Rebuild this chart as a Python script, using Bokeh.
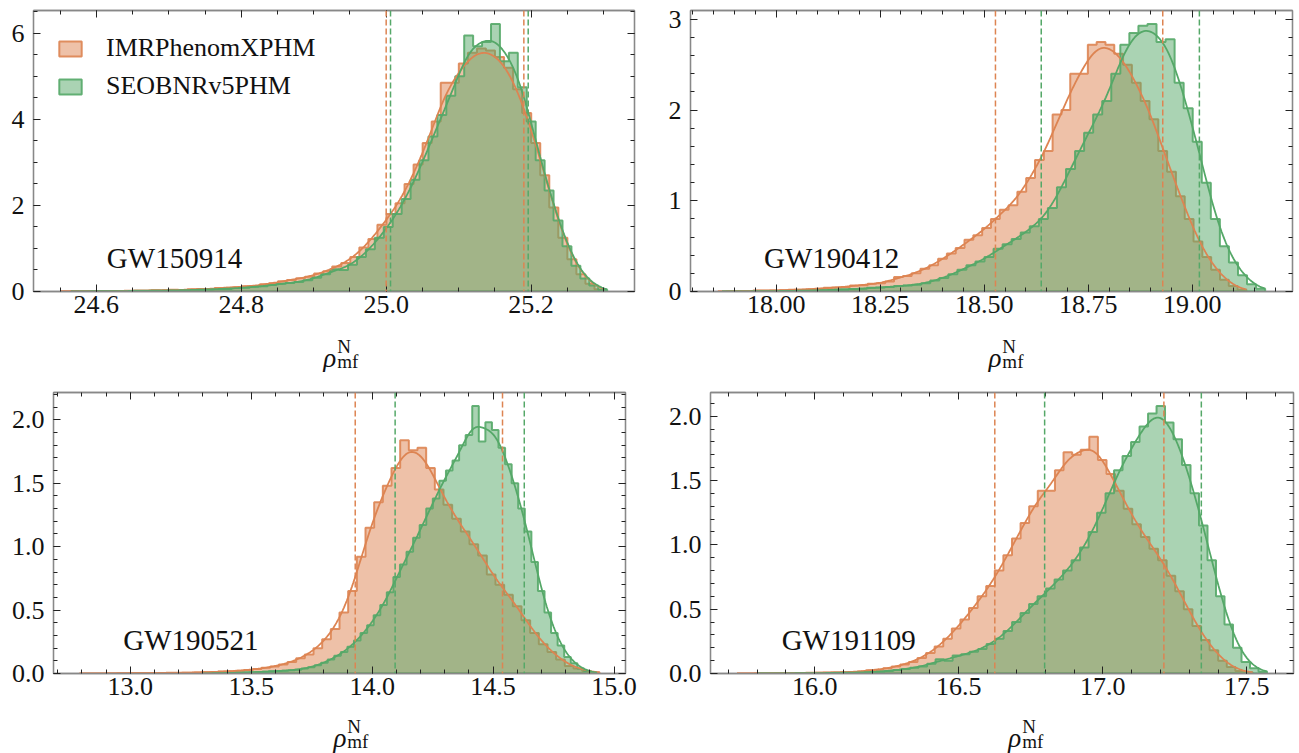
import numpy as np
from bokeh.plotting import figure
from bokeh.layouts import row, column
from bokeh.core.properties import value
from bokeh.models import (Range1d, LinearAxis, SingleIntervalTicker, PrintfTickFormatter,
                          Span, Label, Legend, LegendItem)
from bokeh.embed import file_html
from bokeh.resources import INLINE

MODELS = ["IMRPhenomXPHM", "SEOBNRv5PHM"]
EVENTS = ["GW150914", "GW190412", "GW190521", "GW191109"]

# ---- GW150914 ----
GW150914_IMR_SPAN = [24.551, 25.300]
GW150914_IMR_DENSITY = [0.005, 0.01, 0.0, 0.01, 0.01, 0.005, 0.01, 0.02, 0.015, 0.02,
                        0.03, 0.025, 0.04, 0.03, 0.05, 0.06, 0.05, 0.08, 0.09, 0.10,
                        0.12, 0.13, 0.17, 0.19, 0.24, 0.27, 0.31, 0.34, 0.42, 0.47,
                        0.58, 0.66, 0.80, 1.02, 1.22, 1.55, 1.80, 2.05, 2.50, 2.95,
                        3.45, 3.95, 4.85, 4.85, 5.30, 5.55, 5.65, 5.60, 5.45, 5.20,
                        4.70, 4.15, 3.45, 2.70, 1.95, 1.25, 0.75, 0.40, 0.18, 0.05]
GW150914_SEOB_SPAN = [24.565, 25.305]
GW150914_SEOB_DENSITY = [0.0, 0.005, 0.005, 0.01, 0.005, 0.01, 0.01, 0.015, 0.015, 0.02,
                         0.02, 0.025, 0.03, 0.035, 0.04, 0.05, 0.06, 0.06, 0.08, 0.09,
                         0.11, 0.12, 0.15, 0.18, 0.20, 0.22, 0.26, 0.32, 0.40, 0.52,
                         0.50, 0.62, 0.80, 0.98, 1.25, 1.50, 1.80, 2.15, 2.60, 3.05,
                         3.60, 4.10, 4.55, 5.00, 5.95, 5.70, 5.80, 6.22, 5.35, 5.55,
                         4.75, 3.95, 3.05, 2.35, 1.65, 1.05, 0.60, 0.30, 0.14, 0.04]
GW150914_IMR_CI = [25.000, 25.190]
GW150914_SEOB_CI = [25.006, 25.196]

# ---- GW190412 ----
GW190412_IMR_SPAN = [17.86, 19.13]
GW190412_IMR_DENSITY = [0.0, 0.005, 0.005, 0.005, 0.01, 0.01, 0.01, 0.015, 0.02, 0.02,
                        0.025, 0.03, 0.04, 0.045, 0.05, 0.065, 0.07, 0.085, 0.09, 0.11,
                        0.16, 0.17, 0.20, 0.25, 0.29, 0.36, 0.42, 0.48, 0.57, 0.62,
                        0.70, 0.80, 0.90, 0.95, 1.10, 1.25, 1.45, 1.55, 1.95, 2.00,
                        2.40, 2.40, 2.72, 2.75, 2.72, 2.62, 2.50, 2.30, 2.10, 1.90,
                        1.55, 1.32, 1.05, 0.80, 0.55, 0.38, 0.24, 0.13, 0.06, 0.02]
GW190412_SEOB_SPAN = [17.87, 19.175]
GW190412_SEOB_DENSITY = [0.0, 0.0, 0.002, 0.003, 0.003, 0.005, 0.005, 0.007, 0.008, 0.01,
                         0.012, 0.015, 0.02, 0.022, 0.027, 0.03, 0.04, 0.045, 0.05, 0.06,
                         0.065, 0.075, 0.09, 0.12, 0.15, 0.19, 0.24, 0.29, 0.33, 0.38,
                         0.47, 0.52, 0.58, 0.65, 0.72, 0.80, 0.92, 1.15, 1.35, 1.55,
                         1.75, 1.95, 2.10, 2.40, 2.72, 2.85, 2.93, 2.95, 2.75, 2.78,
                         2.30, 2.02, 1.65, 1.20, 0.80, 0.50, 0.32, 0.18, 0.08, 0.03]
GW190412_IMR_CI = [18.527, 18.929]
GW190412_SEOB_CI = [18.637, 19.017]

# ---- GW190521 ----
GW190521_IMR_SPAN = [12.79, 14.94]
GW190521_IMR_DENSITY = [0.0, 0.0, 0.0, 0.002, 0.002, 0.002, 0.003, 0.003, 0.003, 0.004,
                        0.005, 0.005, 0.006, 0.008, 0.01, 0.012, 0.015, 0.018, 0.022, 0.028,
                        0.035, 0.045, 0.055, 0.07, 0.09, 0.12, 0.15, 0.20, 0.27, 0.35,
                        0.48, 0.65, 0.92, 1.15, 1.35, 1.48, 1.62, 1.84, 1.76, 1.78,
                        1.62, 1.45, 1.33, 1.22, 1.12, 1.02, 0.93, 0.78, 0.70, 0.62,
                        0.53, 0.42, 0.32, 0.23, 0.17, 0.11, 0.06, 0.04, 0.02, 0.01]
GW190521_SEOB_SPAN = [13.30, 14.93]
GW190521_SEOB_DENSITY = [0.0, 0.002, 0.003, 0.004, 0.005, 0.006, 0.008, 0.01, 0.012, 0.014,
                         0.017, 0.02, 0.022, 0.026, 0.03, 0.04, 0.05, 0.065, 0.085, 0.11,
                         0.14, 0.17, 0.21, 0.26, 0.32, 0.38, 0.46, 0.54, 0.64, 0.76,
                         0.86, 0.96, 1.07, 1.17, 1.30, 1.38, 1.52, 1.60, 1.68, 1.80,
                         1.88, 2.11, 1.83, 1.98, 1.92, 1.78, 1.65, 1.50, 1.30, 1.12,
                         0.88, 0.65, 0.48, 0.32, 0.22, 0.13, 0.08, 0.04, 0.02, 0.005]
GW190521_IMR_CI = [13.930, 14.539]
GW190521_SEOB_CI = [14.095, 14.629]

# ---- GW191109 ----
GW191109_IMR_SPAN = [15.73, 17.52]
GW191109_IMR_DENSITY = [0.0, 0.0, 0.001, 0.002, 0.002, 0.003, 0.003, 0.004, 0.005, 0.006,
                        0.007, 0.008, 0.01, 0.012, 0.015, 0.025, 0.03, 0.04, 0.055, 0.07,
                        0.09, 0.12, 0.16, 0.21, 0.27, 0.35, 0.42, 0.51, 0.60, 0.68,
                        0.80, 0.92, 1.05, 1.17, 1.30, 1.42, 1.42, 1.58, 1.72, 1.70,
                        1.74, 1.84, 1.66, 1.55, 1.42, 1.28, 1.16, 1.06, 0.97, 0.88,
                        0.76, 0.64, 0.50, 0.37, 0.26, 0.18, 0.10, 0.05, 0.02, 0.01]
GW191109_SEOB_SPAN = [15.80, 17.57]
GW191109_SEOB_DENSITY = [0.0, 0.0, 0.001, 0.001, 0.002, 0.002, 0.003, 0.003, 0.004, 0.005,
                         0.006, 0.007, 0.009, 0.011, 0.014, 0.02, 0.028, 0.035, 0.045, 0.055,
                         0.075, 0.11, 0.10, 0.14, 0.15, 0.17, 0.19, 0.23, 0.27, 0.33,
                         0.40, 0.47, 0.54, 0.60, 0.66, 0.73, 0.80, 0.88, 0.98, 1.10,
                         1.25, 1.40, 1.58, 1.69, 1.80, 1.92, 2.02, 2.08, 1.95, 1.82,
                         1.62, 1.40, 1.15, 0.88, 0.60, 0.38, 0.20, 0.09, 0.04, 0.015]
GW191109_IMR_CI = [16.625, 17.212]
GW191109_SEOB_CI = [16.798, 17.342]

# ---- style / layout ----
COLORS = ["#DD8452", "#55A868"]
FONT = "Liberation Serif"
FRAME_H = 281
BELOW = 33  # room under the frame for tick labels

GEOM = [  # cell width, cell height, left, right, top, label baselines (N, rho, mf) in strip
    (662, 372, 33, 28, 10, (22, 33, 37)),
    (637, 372, 28, 7, 10, (22, 33, 37)),
    (662, 381, 53, 37, 20, (20, 31, 35)),
    (637, 381, 48, 6, 20, (20, 31, 35)),
]
TICKS = [  # x interval, x minor, x fmt, y interval, y minor, y fmt
    (0.2, 4, "%.1f", 2, 4, "%d"),
    (0.25, 5, "%.2f", 1, 5, "%d"),
    (0.5, 5, "%.1f", 0.5, 5, "%.1f"),
    (0.5, 5, "%.1f", 0.5, 5, "%.1f"),
]

DATA = [
    (GW150914_IMR_SPAN, GW150914_IMR_DENSITY, GW150914_SEOB_SPAN, GW150914_SEOB_DENSITY, GW150914_IMR_CI, GW150914_SEOB_CI),
    (GW190412_IMR_SPAN, GW190412_IMR_DENSITY, GW190412_SEOB_SPAN, GW190412_SEOB_DENSITY, GW190412_IMR_CI, GW190412_SEOB_CI),
    (GW190521_IMR_SPAN, GW190521_IMR_DENSITY, GW190521_SEOB_SPAN, GW190521_SEOB_DENSITY, GW190521_IMR_CI, GW190521_SEOB_CI),
    (GW191109_IMR_SPAN, GW191109_IMR_DENSITY, GW191109_SEOB_SPAN, GW191109_SEOB_DENSITY, GW191109_IMR_CI, GW191109_SEOB_CI),
]


def step_outline(span, dens):
    d = np.asarray(dens, dtype=float)
    edges = np.linspace(span[0], span[1], len(d) + 1)
    xs = np.repeat(edges, 2)
    ys = np.concatenate([[0.0], np.repeat(d, 2), [0.0]])
    return xs, ys


def kde_from_hist(span, dens):
    d = np.asarray(dens, dtype=float)
    n = len(d)
    w = (span[1] - span[0]) / n
    c = span[0] + w * (np.arange(n) + 0.5)
    xs = np.linspace(span[0], span[1], 400)
    bw = 1.25 * w
    k = np.exp(-0.5 * ((xs[:, None] - c[None, :]) / bw) ** 2) / (bw * np.sqrt(2 * np.pi))
    ys = (k * (d * w)[None, :]).sum(axis=1)
    return xs, ys


def make_panel(i):
    imr_span, imr_d, seob_span, seob_d, imr_ci, seob_ci = DATA[i]
    W, H, bl, br, bt, (yN, yR, yM) = GEOM[i]
    xt, xm, xf, yt, ym, yf = TICKS[i]
    fw = W - bl - br
    Hmain = bt + FRAME_H + BELOW

    kdes = [kde_from_hist(imr_span, imr_d), kde_from_hist(seob_span, seob_d)]
    lo = min(imr_span[0], seob_span[0])
    hi = max(imr_span[1], seob_span[1])
    pad = 0.05 * (hi - lo)
    x0, x1 = lo - pad, hi + pad
    ymax = 1.05 * max(max(imr_d), max(seob_d), kdes[0][1].max(), kdes[1][1].max())

    p = figure(width=W, height=Hmain, x_range=Range1d(x0, x1), y_range=Range1d(0, ymax),
               output_backend="svg", toolbar_location=None, title=None,
               min_border_left=bl, min_border_right=br, min_border_top=bt, min_border_bottom=BELOW)
    p.xgrid.visible = False
    p.ygrid.visible = False
    p.outline_line_color = "#888888"
    p.outline_line_width = 1.3
    p.background_fill_color = "white"
    p.border_fill_color = "white"

    p.add_layout(LinearAxis(), "above")
    p.add_layout(LinearAxis(), "right")
    for ax in p.xaxis:
        ax.ticker = SingleIntervalTicker(interval=xt, num_minor_ticks=xm)
        ax.formatter = PrintfTickFormatter(format=xf)
        ax.major_label_standoff = 4
    for ax in p.yaxis:
        ax.ticker = SingleIntervalTicker(interval=yt, num_minor_ticks=ym)
        ax.formatter = PrintfTickFormatter(format=yf)
        ax.major_label_standoff = 9
    for ax in p.axis:
        ax.major_tick_in = 7
        ax.major_tick_out = 0
        ax.minor_tick_in = 4
        ax.minor_tick_out = 0
        ax.axis_line_color = "#888888"
        ax.axis_line_width = 1.3
        ax.major_tick_line_color = "#222222"
        ax.minor_tick_line_color = "#222222"
        ax.major_label_text_font = FONT
        ax.major_label_text_font_size = "26px"
        ax.major_label_text_color = "#111111"
    for ax in list(p.above) + list(p.right):
        ax.major_label_text_font_size = "1px"
        ax.major_label_text_color = None
        ax.major_label_standoff = 0

    spans = [imr_span, seob_span]
    dens = [imr_d, seob_d]
    hist_r = []
    for k in range(2):
        xs, ys = step_outline(spans[k], dens[k])
        hist_r.append(p.patch(xs, ys, fill_color=COLORS[k], fill_alpha=0.5,
                              line_color=COLORS[k], line_width=2.0, line_alpha=0.9))
    for k in range(2):
        p.line(kdes[k][0], kdes[k][1], line_color=COLORS[k], line_width=1.8)
    for k, ci in enumerate([imr_ci, seob_ci]):
        for v in ci:
            p.add_layout(Span(location=v, dimension="height", line_color=COLORS[k],
                              line_width=1.5, line_dash="6 3"))

    p.add_layout(Label(x=x0 + 0.122 * (x1 - x0), y=0.12 * ymax, text=EVENTS[i],
                       text_font=FONT, text_font_size="29px", text_color="#111111",
                       text_align="left", text_baseline="alphabetic"))

    if i == 0:
        items = [LegendItem(label=MODELS[k], renderers=[hist_r[k]]) for k in range(2)]
        leg = Legend(items=items, location="top_left", margin=0, padding=23,
                     border_line_alpha=0, background_fill_alpha=0,
                     label_text_font=FONT, label_text_font_size="26px", label_text_color="#111111",
                     glyph_width=28, glyph_height=19, label_standoff=22, spacing=8)
        p.add_layout(leg)

    # strip under the panel holding the x-axis label rho^N_mf
    hs = H - Hmain
    s = figure(width=W, height=hs, x_range=Range1d(0, W), y_range=Range1d(hs, 0),
               output_backend="svg", toolbar_location=None, title=None,
               x_axis_location=None, y_axis_location=None,
               min_border_left=0, min_border_right=0, min_border_top=0, min_border_bottom=0)
    s.xgrid.visible = False
    s.ygrid.visible = False
    s.outline_line_color = None
    s.background_fill_color = "white"
    s.border_fill_color = "white"
    xc = bl + fw / 2.0
    s.text(x=[xc], y=[yR], text=["ρ"], text_font=value(FONT), text_font_style="italic",
           text_font_size="27px", text_align="right", text_baseline="alphabetic", text_color="#111111")
    s.text(x=[xc + 1, xc + 1], y=[yN, yM], text=["N", "mf"], text_font=value(FONT),
           text_font_size="19px", text_align="left", text_baseline="alphabetic", text_color="#111111")
    return column(p, s)


cells = [make_panel(i) for i in range(4)]
layout = column(row(cells[0], cells[1]), row(cells[2], cells[3]))
open("out.html", "w").write(file_html(layout, INLINE))
